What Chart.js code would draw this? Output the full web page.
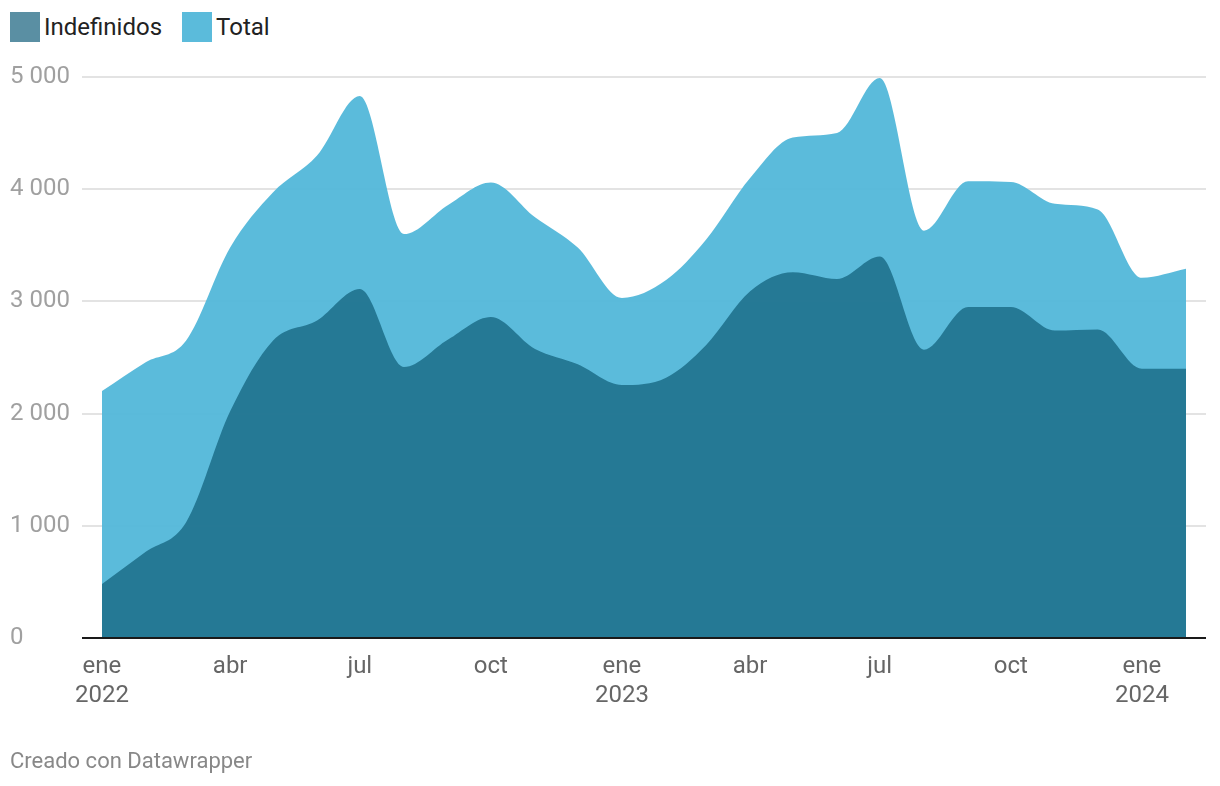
<!DOCTYPE html>
<html>
<head>
<meta charset="utf-8">
<script src="https://cdn.jsdelivr.net/npm/chart.js@4"></script>
<style>
    html, body { margin: 0; padding: 0; background: #fff; }
    body { width: 1220px; height: 786px; position: relative; overflow: hidden; font-family: Roboto, sans-serif; }
    #legend { position: absolute; left: 10px; top: 12px; display: flex; align-items: center; font-size: 24px; color: #222; }
    .key { display: flex; align-items: center; margin-right: 20px; }
    .swatch { width: 30px; height: 30px; margin-right: 4px; }
    #wrap { position: absolute; left: 0; top: 0; width: 1220px; height: 786px; }
    #footer { position: absolute; left: 10px; top: 748px; font-size: 22px; color: #888; }
</style>
</head>
<body>
<div id="legend">
    <div class="key"><div class="swatch" style="background:#5a8fa3"></div>Indefinidos</div>
    <div class="key"><div class="swatch" style="background:#5bbbdb"></div>Total</div>
</div>
<div id="wrap"><canvas id="chart"></canvas></div>
<div id="footer">Creado con Datawrapper</div>
<script>
// Meses (primer día de cada mes), ene 2022 -> feb 2024
const months = [
    '2022-01', '2022-02', '2022-03', '2022-04', '2022-05', '2022-06',
    '2022-07', '2022-08', '2022-09', '2022-10', '2022-11', '2022-12',
    '2023-01', '2023-02', '2023-03', '2023-04', '2023-05', '2023-06',
    '2023-07', '2023-08', '2023-09', '2023-10', '2023-11', '2023-12',
    '2024-01', '2024-02'
];
const totalValues = [
    2200, 2460, 2650, 3480, 3970, 4300, 4830, 3600, 3860, 4060, 3750, 3480,
    3030, 3190, 3550, 4100, 4460, 4500, 4990, 3630, 4070, 4065, 3870, 3820,
    3210, 3290
];
const indefValues = [
    480, 770, 1030, 2020, 2650, 2830, 3110, 2415, 2660, 2860, 2575, 2440,
    2255, 2320, 2610, 3090, 3260, 3200, 3400, 2570, 2950, 2950, 2740, 2750,
    2400, 2400
];
// Etiquetas del eje X
const tickMonths = ['2022-01', '2022-04', '2022-07', '2022-10', '2023-01', '2023-04', '2023-07', '2023-10', '2024-01'];
const tickLabels = [['ene', '2022'], 'abr', 'jul', 'oct', ['ene', '2023'], 'abr', 'jul', 'oct', ['ene', '2024']];
const yTicks = [0, 1000, 2000, 3000, 4000, 5000];

const DAY = 86400000;
const origin = Date.UTC(2022, 0, 1);
function dayOf(m) {
    const [y, mo] = m.split('-').map(Number);
    return (Date.UTC(y, mo - 1, 1) - origin) / DAY;
}
function fmt(v) { return String(v).replace(/\B(?=(\d{3})+(?!\d))/g, ' '); }

const xs = months.map(dayOf);
const tickDays = tickMonths.map(dayOf);
const pad = 14;

new Chart(document.getElementById('chart'), {
    type: 'line',
    data: {
        datasets: [
            {
                label: 'Indefinidos',
                data: xs.map((x, i) => ({ x, y: indefValues[i] })),
                backgroundColor: 'rgba(36,119,147,0.97)',
                fill: 'origin',
                borderWidth: 0,
                pointRadius: 0,
                cubicInterpolationMode: 'monotone'
            },
            {
                label: 'Total',
                data: xs.map((x, i) => ({ x, y: totalValues[i] })),
                backgroundColor: 'rgba(86,185,218,0.97)',
                fill: 'origin',
                borderWidth: 0,
                pointRadius: 0,
                cubicInterpolationMode: 'monotone'
            }
        ]
    },
    options: {
        responsive: true,
        maintainAspectRatio: false,
        animation: false,
        layout: { padding: { left: 10, right: 14, top: 77, bottom: 0 } },
        plugins: { legend: { display: false }, tooltip: { enabled: false } },
        scales: {
            x: {
                type: 'linear',
                min: xs[0] - pad,
                max: xs[xs.length - 1] + pad,
                afterFit: s => { s.height = 148; },
                afterBuildTicks: s => { s.ticks = tickDays.map(v => ({ value: v })); },
                border: { display: false },
                grid: { display: false, drawTicks: false },
                ticks: {
                    autoSkip: false,
                    maxRotation: 0,
                    padding: 14,
                    color: '#666',
                    font: { family: 'Roboto', size: 24, lineHeight: 1.22 },
                    callback: (v) => tickLabels[tickDays.indexOf(v)]
                }
            },
            y: {
                min: 0,
                max: 5000,
                afterFit: s => { s.width = 72; },
                afterBuildTicks: s => { s.ticks = yTicks.map(v => ({ value: v })); },
                border: { display: false },
                grid: {
                    drawTicks: false,
                    color: c => c.tick.value === 0 ? '#1a1a1a' : '#e3e3e3',
                    lineWidth: 2
                },
                ticks: {
                    crossAlign: 'far',
                    padding: 0,
                    color: '#a0a0a0',
                    font: { family: 'Roboto', size: 24 },
                    callback: v => fmt(v)
                }
            }
        }
    },
    plugins: [{
        // línea del cero por encima de las áreas
        id: 'zeroLine',
        afterDatasetsDraw(chart) {
            const { ctx, chartArea, scales } = chart;
            const y = scales.y.getPixelForValue(0);
            ctx.save();
            ctx.strokeStyle = '#1a1a1a';
            ctx.lineWidth = 2;
            ctx.beginPath();
            ctx.moveTo(chartArea.left, y);
            ctx.lineTo(chartArea.right, y);
            ctx.stroke();
            ctx.restore();
        }
    }]
});
</script>
</body>
</html>
